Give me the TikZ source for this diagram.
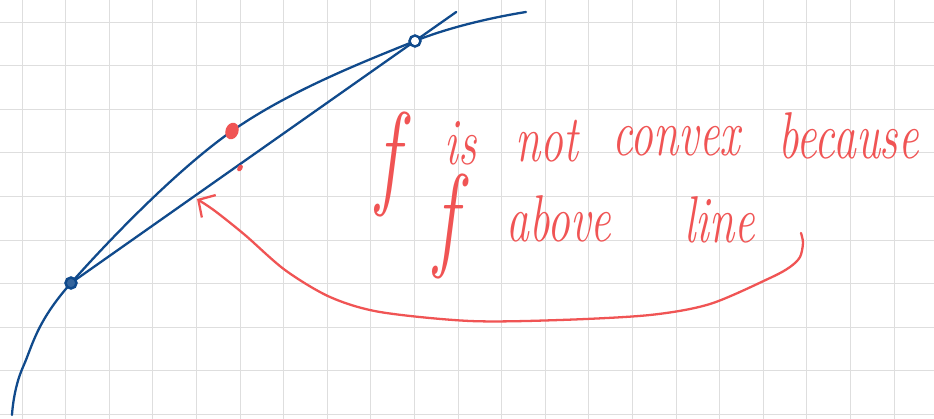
\documentclass[tikz,border=0pt]{standalone}
\usepackage{xcolor}
\usepackage{graphicx}
\usepackage{tikz}
\usetikzlibrary{positioning, shapes.geometric, arrows.meta, calc}

\definecolor{penblue}{RGB}{16,74,140}
\definecolor{penred}{RGB}{240,84,84}
\definecolor{gridgray}{RGB}{222,222,222}

\newcommand{\hand}[1]{\scalebox{1}[1.45]{\fontsize{26}{30}\selectfont\itshape #1}}
\newcommand{\tallf}{\scalebox{1}[1.5]{\fontsize{44}{48}\selectfont\itshape f}}

\tikzset{
	pen/.style={line width=1.3pt, line cap=round, line join=round},
	pt/.style={circle, draw=penblue, line width=1.4pt, inner sep=0pt, minimum size=0.22cm},
	blob/.style={ellipse, fill=penred, inner sep=0pt, minimum width=0.26cm, minimum height=0.34cm},
	word/.style={anchor=base west, inner sep=0pt, text=penred}
}

\begin{document}
\begin{tikzpicture}[x=0.02cm, y=-0.02cm]

	\useasboundingbox (0,0) rectangle (934,419);
	\fill[white] (0,0) rectangle (934,419);
	\foreach \i in {0,...,20} \draw[gridgray, line width=0.5pt] (22+43.6*\i,0) -- (22+43.6*\i,419);
	\foreach \j in {0,...,9} \draw[gridgray, line width=0.5pt] (0,22+43.6*\j) -- (934,22+43.6*\j);

	\coordinate (a) at (71,283);
	\coordinate (b) at (415,41);
	\coordinate (p) at (232,131);
	\coordinate (fbot) at (12,415);
	\coordinate (fend) at (526,12);
	\coordinate (lend) at ($(a)!1.12!(b)$);
	\coordinate (hook) at (801,233);
	\coordinate (tip) at (197,199);

	% the function and the chord
	\draw[pen, penblue] plot[smooth, tension=0.6] coordinates {(fbot) (23,367) (a) (p) (b) (fend)};
	\draw[pen, penblue] (a) -- (lend);

	\draw[pen, penred, -{Straight Barb[length=7pt, width=15pt]}] plot[smooth] coordinates {(hook) (803,243) (800,257) (790,267) (770,278) (710,304) (650,315) (560,320) (470,321) (380,312) (330,297) (285,270) (245,235) (215,211) (tip)};

	\node[pt, fill=penblue!85] (A) at (a) {};
	\node[pt, fill=white] (B) at (b) {};
	\node[blob, rotate=-20] (P) at (p) {};
	\node[blob, minimum width=0.1cm, minimum height=0.15cm, rotate=-30] (Q) at (240,168) {};

	\node[word] (f1) at (376,193) {\tallf};
	\node[word] (is) at (444,164) {\hand{is}};
	\node[word] (not) at (515,161) {\hand{not}};
	\node[word] (convex) at (612,155) {\hand{convex}};
	\node[word] (because) at (778,158) {\hand{because}};

	\node[word] (f2) at (434,255) {\tallf};
	\node[word] (above) at (506,241) {\hand{above}};
	\node[word] (line) at (684,242) {\hand{line}};

\end{tikzpicture}
\end{document}
